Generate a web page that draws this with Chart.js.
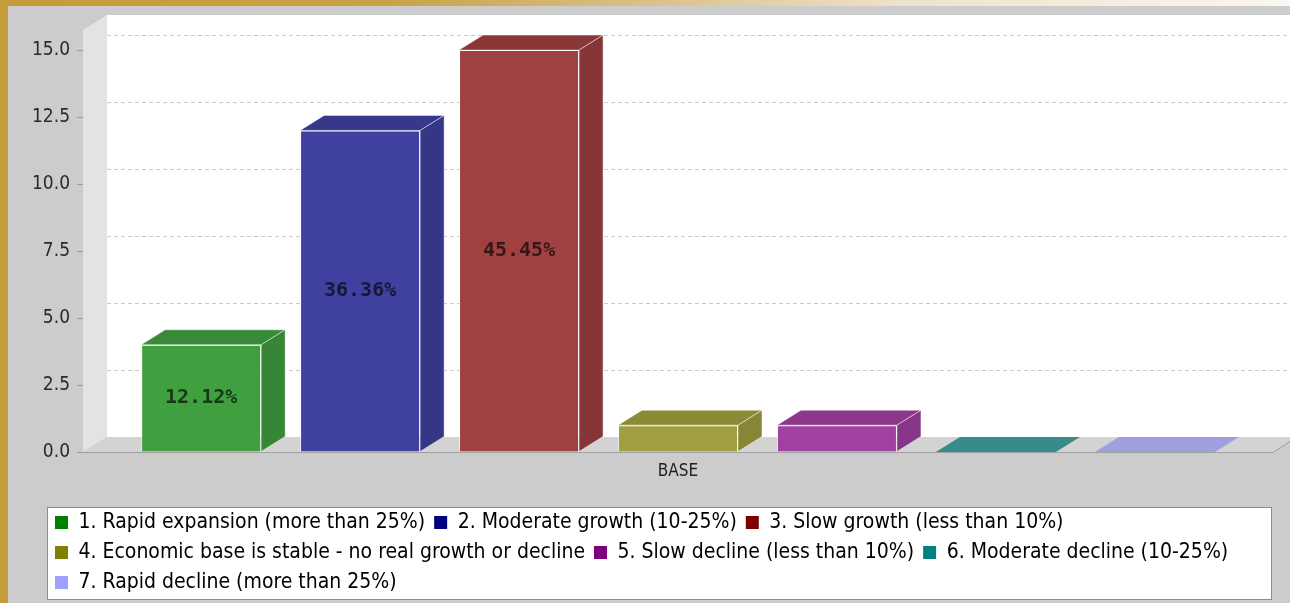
<!DOCTYPE html>
<html>
<head>
<meta charset="utf-8">
<script src="https://cdn.jsdelivr.net/npm/chart.js@4.4.1/dist/chart.umd.min.js"></script>
<style>
  html, body { margin: 0; padding: 0; width: 1290px; height: 603px; overflow: hidden;
    background: linear-gradient(to right, #c49c3a 0%, #c8a246 30%, #d9c088 50%, #eee2cb 70%, #faf7f1 100%); }
  #wrap { position: absolute; left: 8px; top: 6px; width: 1282px; height: 597px; }
</style>
</head>
<body>
<div id="wrap"><canvas id="chart" width="1282" height="597"></canvas></div>
<script>
// data
const categories = ['BASE'];
const seriesNames = [
  '1. Rapid expansion (more than 25%)',
  '2. Moderate growth (10-25%)',
  '3. Slow growth (less than 10%)',
  '4. Economic base is stable - no real growth or decline',
  '5. Slow decline (less than 10%)',
  '6. Moderate decline (10-25%)',
  '7. Rapid decline (more than 25%)'
];
const seriesValues = [4, 12, 15, 1, 1, 0, 0];
const seriesColors = ['#008000', '#000080', '#800000', '#808000', '#800080', '#008080', '#a0a0ff'];
const yMax = 15.75;
const yStep = 2.5;

const FONT = "'DejaVu Sans Condensed', 'DejaVu Sans', sans-serif";
const DX = 24, DY = -15;   // 3d depth
const LEGEND_SHIFT = 18;   // legend sits further right than the y axis box

function rgb(hex) {
  const n = parseInt(hex.slice(1), 16);
  return [(n >> 16) & 255, (n >> 8) & 255, n & 255];
}
function css(c) { return 'rgb(' + c.map(v => Math.round(v)).join(',') + ')'; }
function front(hex) { return rgb(hex).map(v => v * 0.75 + 255 * 0.25); }
function shade(c, k) { return c.map(v => v * k); }

const total = seriesValues.reduce((a, b) => a + b, 0);

const datasets = seriesNames.map((name, i) => ({
  label: name,
  data: [seriesValues[i]],
  backgroundColor: css(front(seriesColors[i])),
  borderColor: 'rgba(255,255,255,0.55)',
  borderWidth: 1,
  borderSkipped: 'bottom'
}));

const walls = {
  id: 'walls',
  afterLayout(chart) {
    chart.legend.left += LEGEND_SHIFT;
    chart.legend.right += LEGEND_SHIFT;
  },
  beforeDraw(chart) {
    const ctx = chart.ctx, a = chart.chartArea;
    ctx.save();
    ctx.fillStyle = '#cccccc';
    ctx.fillRect(0, 0, chart.width, chart.height);
    // back wall
    ctx.fillStyle = '#ffffff';
    ctx.fillRect(a.left + DX, a.top + DY, a.right - a.left, a.bottom - a.top);
    // left wall
    ctx.fillStyle = '#e3e3e3';
    ctx.beginPath();
    ctx.moveTo(a.left, a.top); ctx.lineTo(a.left + DX, a.top + DY);
    ctx.lineTo(a.left + DX, a.bottom + DY); ctx.lineTo(a.left, a.bottom);
    ctx.closePath(); ctx.fill();
    // floor
    ctx.fillStyle = '#d3d3d3';
    ctx.beginPath();
    ctx.moveTo(a.left, a.bottom); ctx.lineTo(a.right, a.bottom);
    ctx.lineTo(a.right + DX, a.bottom + DY); ctx.lineTo(a.left + DX, a.bottom + DY);
    ctx.closePath(); ctx.fill();
    ctx.strokeStyle = '#a0a0a0'; ctx.lineWidth = 1;
    ctx.beginPath();
    ctx.moveTo(a.left, a.bottom + 0.5); ctx.lineTo(a.right, a.bottom + 0.5);
    ctx.lineTo(a.right + DX, a.bottom + DY);
    ctx.stroke();
    // grid lines on back wall
    const y = chart.scales.y;
    ctx.strokeStyle = '#cacaca';
    ctx.setLineDash([4, 3]);
    y.ticks.forEach(t => {
      if (t.value === 0) return;
      const py = Math.round(y.getPixelForValue(t.value) + DY) + 0.5;
      ctx.beginPath();
      ctx.moveTo(a.left + DX, py); ctx.lineTo(a.right + DX, py);
      ctx.stroke();
    });
    ctx.setLineDash([]);
    // legend frame
    const lg = chart.legend;
    const fx = lg.left + lg.options.labels.padding - 8;
    const fy = lg.top + 4;
    const fw = chart.width - 18 - fx;
    const fh = chart.height - 3 - fy;
    ctx.fillStyle = '#ffffff';
    ctx.fillRect(fx, fy, fw, fh);
    ctx.strokeStyle = '#8c8c8c';
    ctx.strokeRect(Math.round(fx) + 0.5, Math.round(fy) + 0.5, Math.round(fw) - 1, Math.round(fh) - 1);
    ctx.restore();
  },
  afterDatasetsDraw(chart) {
    const ctx = chart.ctx;
    ctx.save();
    chart.data.datasets.forEach((ds, i) => {
      const bar = chart.getDatasetMeta(i).data[0];
      const l = bar.x - bar.width / 2, r = bar.x + bar.width / 2;
      const t = bar.y, b = bar.base;
      const f = front(seriesColors[i]);
      ctx.lineWidth = 1;
      ctx.strokeStyle = 'rgba(255,255,255,0.45)';
      // top face
      ctx.fillStyle = css(shade(f, 0.87));
      ctx.beginPath();
      ctx.moveTo(l, t); ctx.lineTo(r, t); ctx.lineTo(r + DX, t + DY); ctx.lineTo(l + DX, t + DY);
      ctx.closePath(); ctx.fill();
      if (b - t > 1) {
        ctx.stroke();
        // side face
        ctx.fillStyle = css(shade(f, 0.84));
        ctx.beginPath();
        ctx.moveTo(r, t); ctx.lineTo(r + DX, t + DY); ctx.lineTo(r + DX, b + DY); ctx.lineTo(r, b);
        ctx.closePath(); ctx.fill(); ctx.stroke();
      }
      // percentage label inside the front face when it fits
      if (b - t > 40) {
        const pct = (seriesValues[i] / total * 100).toFixed(2) + '%';
        ctx.font = "bold 20px 'DejaVu Sans Mono', monospace";
        ctx.fillStyle = 'rgba(0,0,0,0.65)';
        ctx.textAlign = 'center';
        ctx.textBaseline = 'middle';
        ctx.fillText(pct, bar.x, (t + b) / 2);
      }
    });
    ctx.restore();
  }
};

new Chart(document.getElementById('chart'), {
  type: 'bar',
  data: { labels: categories, datasets: datasets },
  options: {
    responsive: false,
    animation: false,
    layout: { padding: { left: 20, right: 17, top: 24, bottom: 0 } },
    datasets: { bar: { categoryPercentage: 0.935, barPercentage: 0.755 } },
    plugins: {
      legend: {
        position: 'bottom',
        align: 'start',
        labels: {
          boxWidth: 13, boxHeight: 13, padding: 9, color: '#383838',
          font: { family: FONT, size: 21 },
          generateLabels: () => seriesNames.map((n, i) => ({
            text: n, fillStyle: seriesColors[i], strokeStyle: seriesColors[i],
            lineWidth: 0, hidden: false, datasetIndex: i
          }))
        }
      },
      tooltip: { enabled: false }
    },
    scales: {
      x: {
        grid: { display: false, drawTicks: false },
        border: { display: false },
        ticks: { color: '#222', font: { family: FONT, size: 17 }, padding: 9 },
        afterFit: s => { s.height = 51; }
      },
      y: {
        min: 0, max: yMax,
        afterBuildTicks: s => { s.ticks = s.ticks.filter(t => t.value % yStep === 0); },
        ticks: { stepSize: yStep, includeBounds: false, color: '#2a2a2a',
          font: { family: FONT, size: 19 }, padding: 7, callback: v => v.toFixed(1) },
        grid: { drawOnChartArea: false, tickLength: 6, color: '#9a9a9a' },
        border: { display: false },
        afterFit: s => { s.width = 55; }
      }
    }
  },
  plugins: [walls]
});
</script>
</body>
</html>
